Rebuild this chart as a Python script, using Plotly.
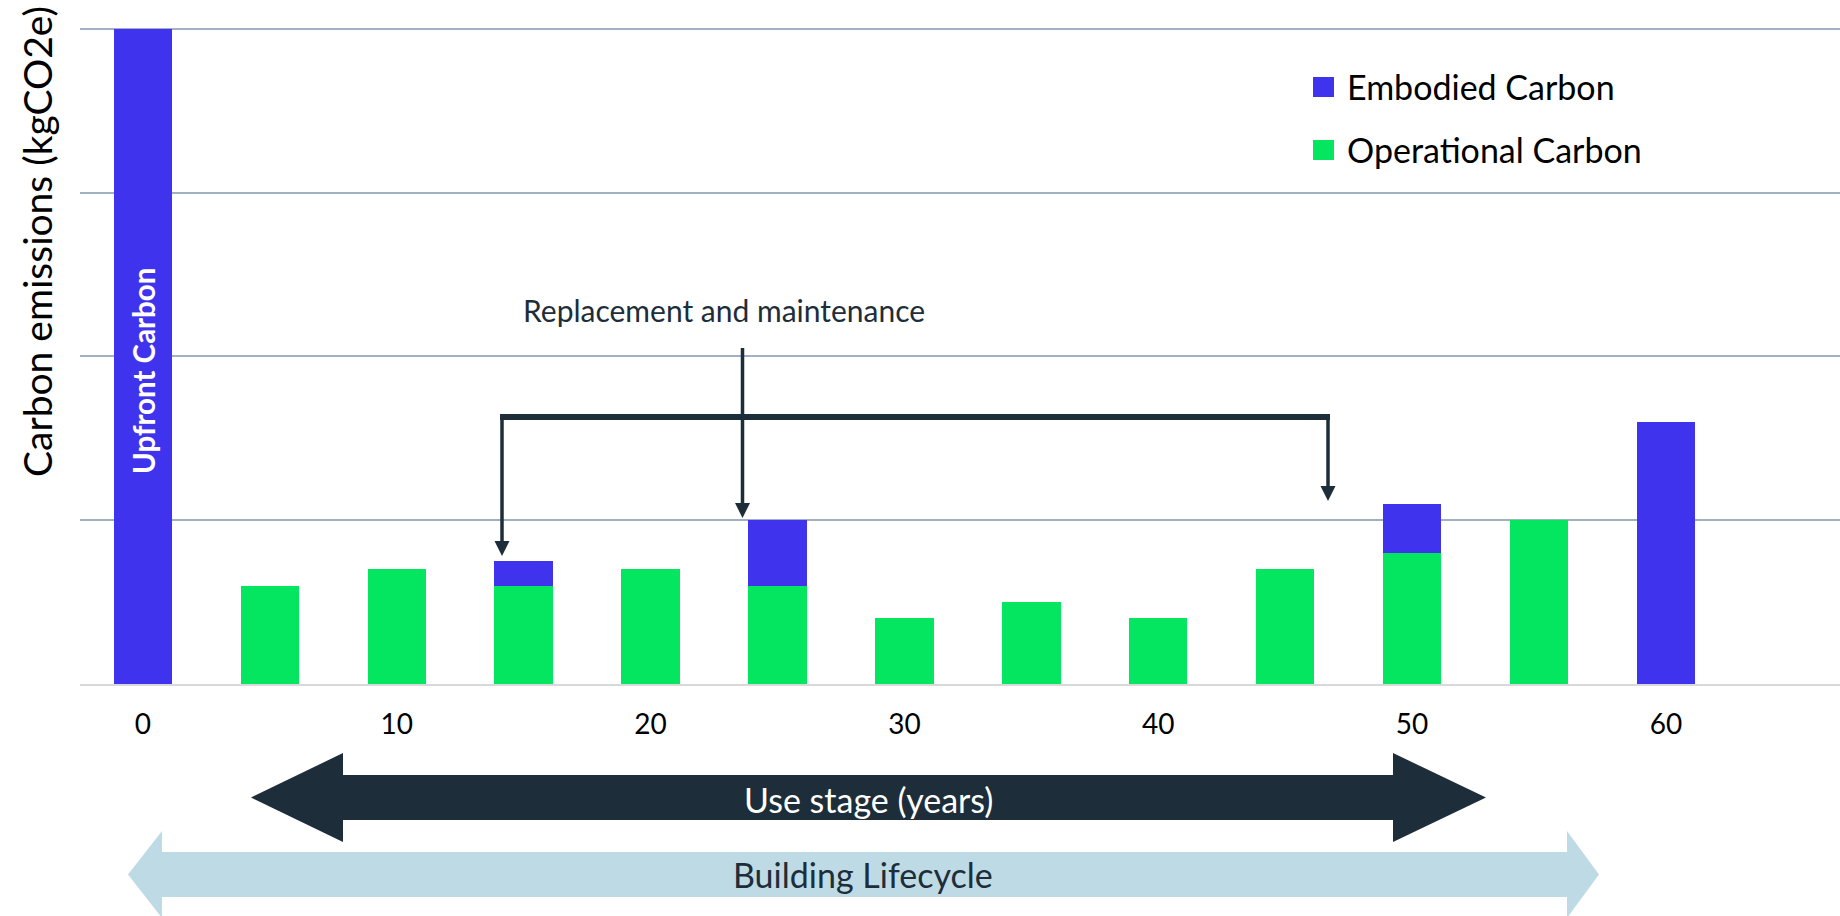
import plotly.graph_objects as go

# ---------------- data ----------------
years = [0, 5, 10, 15, 20, 25, 30, 35, 40, 45, 50, 55, 60]
operational = [None, 0.6, 0.7, 0.6, 0.7, 0.6, 0.4, 0.5, 0.4, 0.7, 0.8, 1.0, None]
embodied = [4.0, None, None, 0.15, None, 0.4, None, None, None, None, 0.3, None, 1.6]
tick_vals = [0, 10, 20, 30, 40, 50, 60]
tick_text = ["0", "10", "20", "30", "40", "50", "60"]
series_names = ["Embodied Carbon", "Operational Carbon"]

# ---------------- style ----------------
W, H = 1840, 916
L, R, T, B = 80, 0, 24, 232
BLUE = "#4033EE"
GREEN = "#05E660"
DARK = "#1D2D3A"
LIGHT = "#BEDBE5"
GRID = "#A2B0C4"
FONT = "Lato"


def px(x):
    return (x - L) / (W - L - R)


def py(y):
    return (H - B - y) / (H - T - B)


def path(points):
    s = "M " + " L ".join(f"{px(a):.5f},{py(b):.5f}" for a, b in points) + " Z"
    return s


fig = go.Figure()
fig.add_trace(go.Bar(x=years, y=operational, name=series_names[1],
                     marker=dict(color=GREEN, line=dict(width=0)), width=2.3))
fig.add_trace(go.Bar(x=years, y=embodied, name=series_names[0],
                     marker=dict(color=BLUE, line=dict(width=0)), width=2.3))

shapes = []
# replacement bracket
shapes.append(dict(type="line", xref="paper", yref="paper",
                   x0=px(500), x1=px(1330), y0=py(417), y1=py(417),
                   line=dict(color=DARK, width=6)))
for xv, ytop, ytip in [(502, 417, 556), (742.5, 348, 518), (1328, 417, 501)]:
    shapes.append(dict(type="line", xref="paper", yref="paper",
                       x0=px(xv), x1=px(xv), y0=py(ytop), y1=py(ytip - 12),
                       line=dict(color=DARK, width=3.5)))
    shapes.append(dict(type="path", xref="paper", yref="paper",
                       path=path([(xv - 7.5, ytip - 15), (xv + 7.5, ytip - 15), (xv, ytip)]),
                       fillcolor=DARK, line=dict(width=0)))

# use stage arrow
shapes.append(dict(type="path", xref="paper", yref="paper",
                   path=path([(251, 797.5), (343, 753), (343, 775), (1393, 775), (1393, 753),
                              (1486, 797.5), (1393, 842), (1393, 820), (343, 820), (343, 842)]),
                   fillcolor=DARK, line=dict(width=0)))
# building lifecycle arrow
shapes.append(dict(type="path", xref="paper", yref="paper",
                   path=path([(128, 874.5), (162, 831), (162, 852), (1567, 852), (1567, 831),
                              (1599, 874.5), (1567, 918), (1567, 897), (162, 897), (162, 918)]),
                   fillcolor=LIGHT, line=dict(width=0)))

# legend squares
shapes.append(dict(type="rect", xref="paper", yref="paper",
                   x0=px(1313), x1=px(1334), y0=py(77), y1=py(97),
                   fillcolor=BLUE, line=dict(width=0)))
shapes.append(dict(type="rect", xref="paper", yref="paper",
                   x0=px(1313), x1=px(1334), y0=py(140), y1=py(160),
                   fillcolor=GREEN, line=dict(width=0)))

annotations = [
    dict(text="Replacement and maintenance", x=px(724), y=py(310), xref="paper", yref="paper",
         showarrow=False, font=dict(family=FONT, size=30, color=DARK), xanchor="center", yanchor="middle"),
    dict(text="Use stage (years)", x=px(868), y=py(799), xref="paper", yref="paper",
         showarrow=False, font=dict(family=FONT, size=34, color="white"), xanchor="center", yanchor="middle"),
    dict(text="Building Lifecycle", x=px(863), y=py(874), xref="paper", yref="paper",
         showarrow=False, font=dict(family=FONT, size=34, color=DARK), xanchor="center", yanchor="middle"),
    dict(text="Carbon emissions (kgCO2e)", x=px(37), y=py(242), xref="paper", yref="paper",
         showarrow=False, textangle=-90, font=dict(family=FONT, size=39, color="black"),
         xanchor="center", yanchor="middle"),
    dict(text="<b>Upfront Carbon</b>", x=years[0], y=py(371), xref="x", yref="paper",
         showarrow=False, textangle=-90, font=dict(family=FONT, size=29.5, color="white"),
         xanchor="center", yanchor="middle"),
    dict(text=series_names[0], x=px(1345), y=py(86), xref="paper", yref="paper",
         showarrow=False, font=dict(family=FONT, size=34, color="black"), xanchor="left", yanchor="middle"),
    dict(text=series_names[1], x=px(1345), y=py(149), xref="paper", yref="paper",
         showarrow=False, font=dict(family=FONT, size=34, color="black"), xanchor="left", yanchor="middle"),
]

fig.update_layout(
    width=W, height=H,
    margin=dict(l=L, r=R, t=T, b=B, pad=0),
    barmode="stack",
    showlegend=False,
    plot_bgcolor="white", paper_bgcolor="white",
    font=dict(family=FONT, color="black"),
    shapes=shapes,
    annotations=annotations,
    xaxis=dict(range=[-2.48, 66.86], tickvals=tick_vals, ticktext=tick_text,
               showgrid=False, zeroline=False, showline=True, linecolor="#D9D9D9", linewidth=2,
               ticks="", ticklabelstandoff=14, tickfont=dict(family=FONT, size=28, color="black")),
    yaxis=dict(range=[0, 4.03], dtick=1, showgrid=True, gridcolor=GRID, gridwidth=1.5,
               zeroline=False, showticklabels=False, showline=False, ticks=""),
)

fig.write_html("out.html")
